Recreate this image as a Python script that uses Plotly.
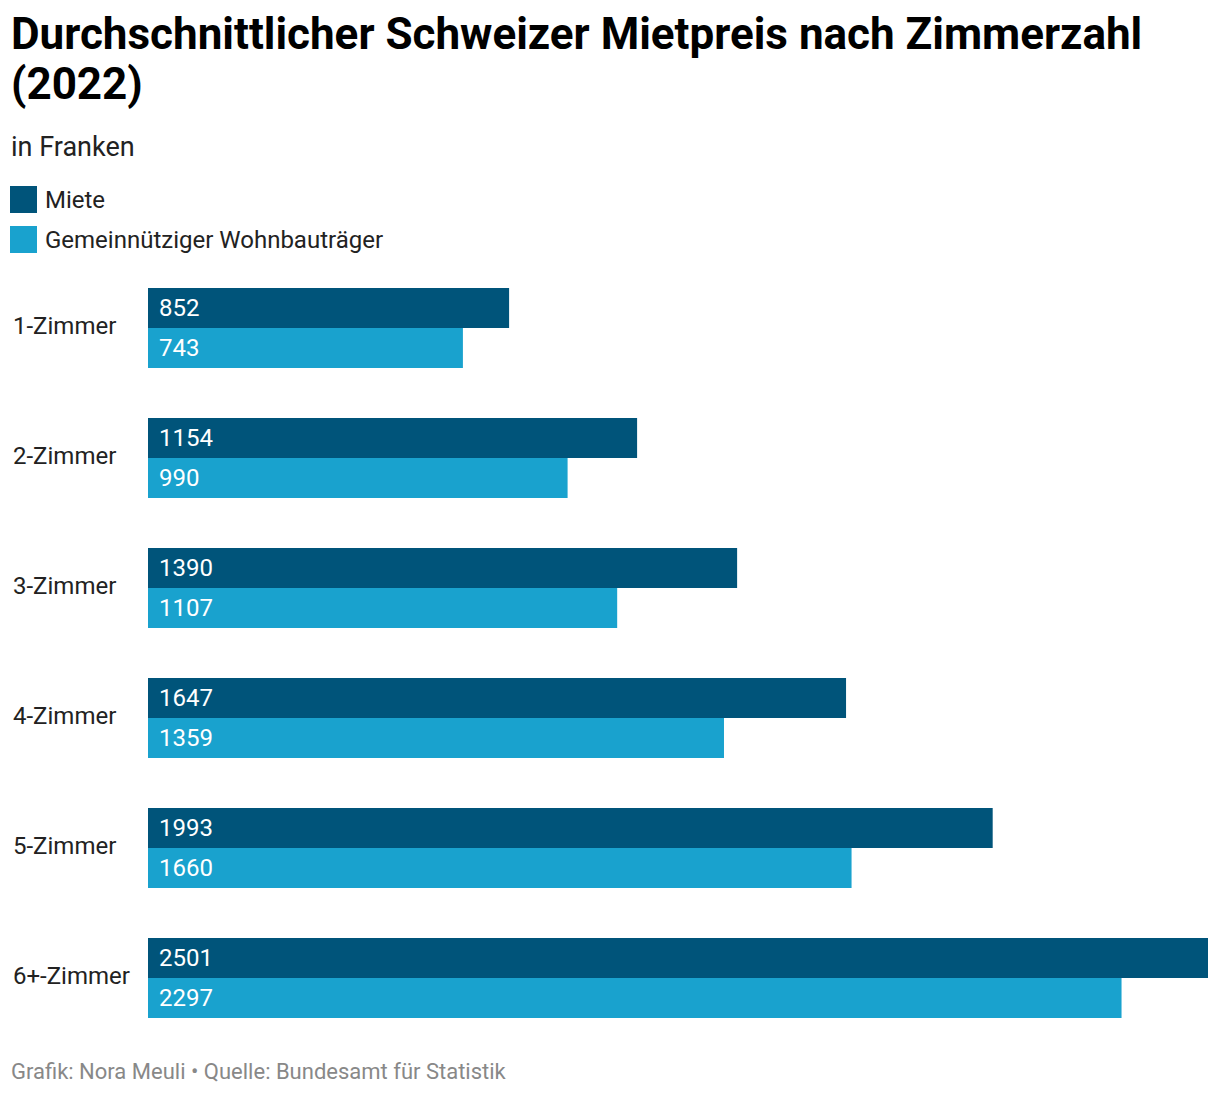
import plotly.graph_objects as go

categories = ["1-Zimmer", "2-Zimmer", "3-Zimmer", "4-Zimmer", "5-Zimmer", "6+-Zimmer"]
miete = [852, 1154, 1390, 1647, 1993, 2501]
gemein = [743, 990, 1107, 1359, 1660, 2297]
series_names = ["Miete", "Gemeinnütziger Wohnbauträger"]
title_lines = ["Durchschnittlicher Schweizer Mietpreis nach Zimmerzahl", "(2022)"]

DARK = "#00547a"
LIGHT = "#19a2ce"
FONT = "Roboto"

W, H = 1220, 1094
ML, MR, MT, MB = 148, 12, 263, 51
PW = W - ML - MR
PH = H - MT - MB


def py(p):
    return (H - MB - p) / PH


def px(p):
    return (p - ML) / PW


fig = go.Figure()
fig.add_trace(go.Bar(y=categories, x=miete, orientation="h", name=series_names[0],
                     marker=dict(color=DARK, line=dict(width=0)), showlegend=False,
                     hoverinfo="x"))
fig.add_trace(go.Bar(y=categories, x=gemein, orientation="h", name=series_names[1],
                     marker=dict(color=LIGHT, line=dict(width=0)), showlegend=False,
                     hoverinfo="x"))

annotations = []
shapes = []
# value labels inside bars
for cat, a, b in zip(categories, miete, gemein):
    annotations.append(dict(x=0, y=cat, xref="x", yref="y", text=str(a), showarrow=False,
                            xanchor="left", yanchor="middle", xshift=9, yshift=20,
                            font=dict(family=FONT, size=24, color="white")))
    annotations.append(dict(x=0, y=cat, xref="x", yref="y", text=str(b), showarrow=False,
                            xanchor="left", yanchor="middle", xshift=9, yshift=-20,
                            font=dict(family=FONT, size=24, color="white")))
    # category labels, left aligned
    annotations.append(dict(x=px(11), y=cat, xref="paper", yref="y", text=cat, showarrow=False,
                            xanchor="left", yanchor="middle", yshift=2,
                            font=dict(family=FONT, size=24, color="#222222")))

# title / subtitle / footer
for line, cy in zip(title_lines, [34, 84]):
    annotations.append(dict(x=px(9), y=py(cy), xref="paper", yref="paper", showarrow=False,
                            xanchor="left", yanchor="middle", align="left",
                            text="<b>" + line + "</b>",
                            font=dict(family=FONT, size=44, color="#000000")))
annotations.append(dict(x=px(9), y=py(147), xref="paper", yref="paper", showarrow=False,
                        xanchor="left", yanchor="middle", text="in Franken",
                        font=dict(family=FONT, size=27, color="#222222")))
annotations.append(dict(x=px(9), y=py(1071), xref="paper", yref="paper", showarrow=False,
                        xanchor="left", yanchor="middle",
                        text="Grafik: Nora Meuli • Quelle: Bundesamt für Statistik",
                        font=dict(family=FONT, size=22, color="#888888")))

# legend
for i, (name, col) in enumerate(zip(series_names, [DARK, LIGHT])):
    top = 186 + 40 * i
    shapes.append(dict(type="rect", xref="paper", yref="paper",
                       x0=px(10), x1=px(37), y0=py(top), y1=py(top + 27),
                       fillcolor=col, line=dict(width=0)))
    annotations.append(dict(x=px(43), y=py(top + 14), xref="paper", yref="paper", showarrow=False,
                            xanchor="left", yanchor="middle", text=name,
                            font=dict(family=FONT, size=24, color="#222222")))

fig.update_layout(
    width=W, height=H,
    margin=dict(l=ML, r=MR, t=MT, b=MB),
    paper_bgcolor="white", plot_bgcolor="white",
    barmode="group", bargap=50 / 130, bargroupgap=0,
    showlegend=False,
    xaxis=dict(range=[0, max(miete)], visible=False, fixedrange=True),
    yaxis=dict(autorange="reversed", showticklabels=False, showgrid=False,
               zeroline=False, showline=False, ticks="", fixedrange=True),
    annotations=annotations, shapes=shapes,
    font=dict(family=FONT),
)

fig.write_html("out.html", config={"displayModeBar": False},
               post_script="document.body.style.margin='0';")
